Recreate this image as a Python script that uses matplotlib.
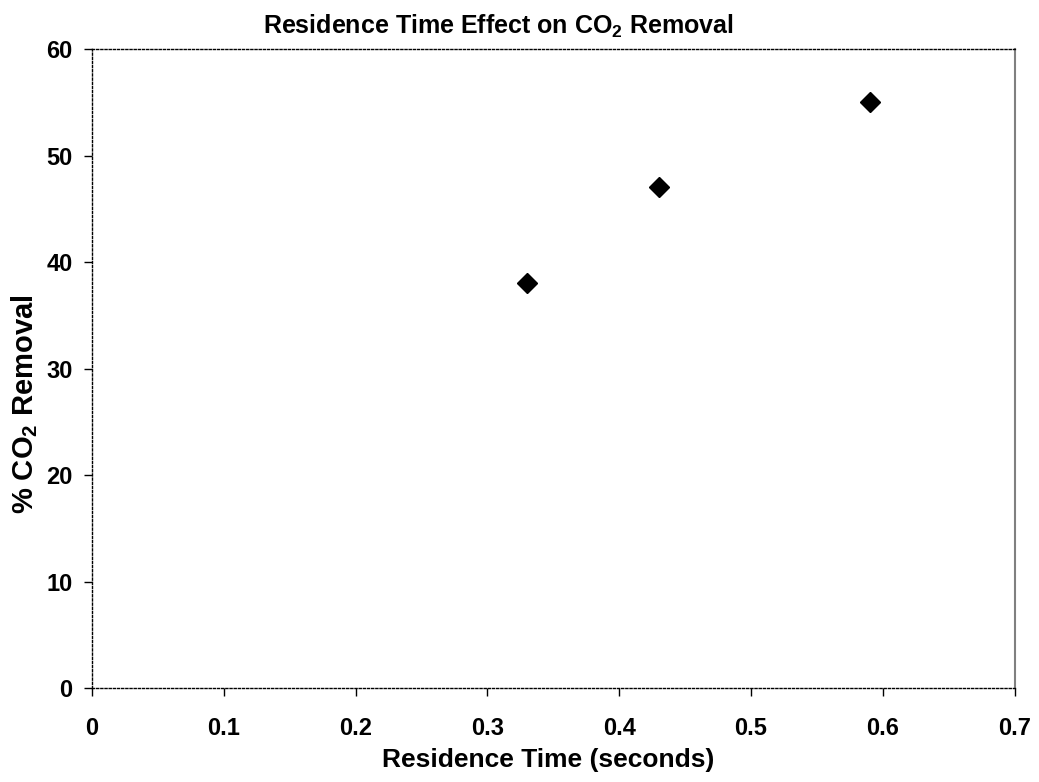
import matplotlib.pyplot as plt
from matplotlib.ticker import FuncFormatter

plt.rcParams['font.family'] = ['Liberation Sans', 'DejaVu Sans']
plt.rcParams['font.weight'] = 'bold'
plt.rcParams['mathtext.fontset'] = 'custom'
plt.rcParams['mathtext.rm'] = 'Liberation Sans:bold'
plt.rcParams['mathtext.default'] = 'rm'

# residence time (s) vs % CO2 removal
res_time = [0.33, 0.43, 0.59]
co2_removal = [38, 47, 55]

x_ticks = [0, 0.1, 0.2, 0.3, 0.4, 0.5, 0.6, 0.7]
y_ticks = [0, 10, 20, 30, 40, 50, 60]

fig = plt.figure(figsize=(10.39, 7.82), dpi=100)
ax = fig.add_axes([0.0885, 0.1202, 0.888, 0.8171])

ax.plot(res_time, co2_removal, linestyle='none', marker='D', markersize=10.5,
        color='black', markeredgecolor='black')

ax.set_xlim(0, 0.7)
ax.set_ylim(0, 60)
ax.set_xticks(x_ticks)
ax.set_yticks(y_ticks)
ax.xaxis.set_major_formatter(FuncFormatter(lambda v, p: '0' if v == 0 else f'{v:g}'))

for side in ['top', 'left', 'bottom']:
    ax.spines[side].set_linestyle((0, (1.5, 1.5)))
    ax.spines[side].set_linewidth(1.0)
    ax.spines[side].set_color('black')
ax.spines['right'].set_color('#808080')
ax.spines['right'].set_linewidth(1.5)

ax.tick_params(axis='x', direction='out', length=6, width=1, pad=15, labelsize=17)
ax.tick_params(axis='y', direction='out', length=6, width=1, pad=8, labelsize=17)

fig.text(0.48, 0.966, 'Residence Time Effect on CO$_2$ Removal', ha='center', va='center',
         fontsize=18, fontweight='bold')
fig.text(0.528, 0.028, 'Residence Time (seconds)', ha='center', va='center',
         fontsize=19, fontweight='bold')
fig.text(0.024, 0.483, '% CO$_2$ Removal', ha='center', va='center', rotation=90,
         fontsize=21, fontweight='bold')

fig.savefig('out.png', dpi=100)
